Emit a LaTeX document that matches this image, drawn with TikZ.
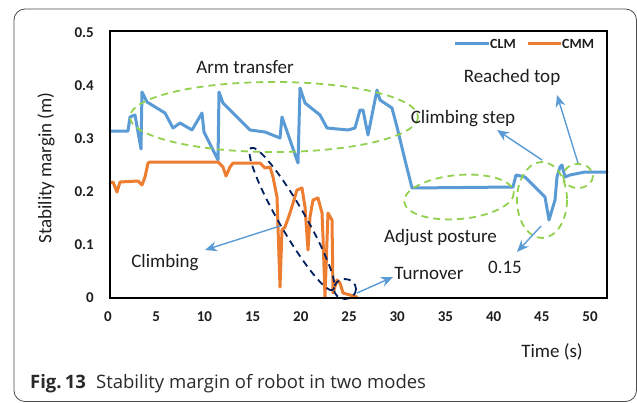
\documentclass[tikz,border=0pt]{standalone}
\usepackage{fontspec}
\setmainfont{Carlito}
\newfontfamily\capfont{Open Sans}
\usetikzlibrary{arrows.meta}
\definecolor{clm}{HTML}{5B9BD5}
\definecolor{cmm}{HTML}{ED7D31}
\definecolor{grn}{HTML}{92D050}
\definecolor{navyd}{HTML}{002060}
\definecolor{txt}{HTML}{1E1E1E}
\definecolor{captxt}{HTML}{2A2A2A}
\begin{document}
\begin{tikzpicture}[x=1pt,y=-1pt,
  lbl/.style={font=\fontsize{19}{22}\selectfont, text=txt, inner sep=0pt, anchor=base},
  ticklbl/.style={font=\fontsize{15}{18}\selectfont\bfseries, text=txt, inner sep=0pt},
  leglbl/.style={font=\fontsize{14}{16}\selectfont\bfseries, text=txt, inner sep=0pt, anchor=base west},
  curve/.style={line width=3pt, line join=round, line cap=round},
  gdash/.style={grn, line width=1.8pt, dash pattern=on 7pt off 5pt},
  ndash/.style={navyd, line width=1.8pt, dash pattern=on 7pt off 5pt},
  callout/.style={clm, line width=1.4pt, -{Stealth[length=12pt,width=10pt]}}]
\useasboundingbox (0,0) rectangle (637,402);
% outer frame
\draw[rounded corners=11pt, black!70, line width=0.8pt] (14,9) rectangle (636.5,401.5);

% CLM curve
\draw[curve, clm] (110,131) -- (128,131) -- (130,117) -- (135,115) -- (141,149) -- (142,92) -- (147,102) -- (165,113) -- (173,128) -- (180,123) -- (192,130) -- (202,113) -- (204,132) -- (218,160) -- (219,92) -- (223,103) -- (238,118) -- (250,130) -- (265,132) -- (280,138) -- (282,117) -- (298,163) -- (300,88) -- (305,103) -- (320,115) -- (327,128) -- (348,130) -- (355,128) -- (360,110) -- (363,110) -- (368,135) -- (377,90) -- (380,100) -- (392,108) -- (397,127) -- (405,160) -- (412,188) -- (513,187) -- (516,175) -- (525,177) -- (545,197) -- (549,220) -- (555,200) -- (557,177) -- (560,167) -- (562,165) -- (565,177) -- (570,175) -- (580,173) -- (585,172) -- (607,172);

% CMM curve
\draw[curve, cmm] (110,183) -- (113,182) -- (117,192) -- (120,182) -- (138,181) -- (142,185) -- (145,177) -- (148,163) -- (150,162) -- (218,162) -- (223,167) -- (226,176) -- (230,167) -- (233,163) -- (260,163) -- (265,168) -- (270,167) -- (273,177) -- (277,197) -- (278,227) -- (280,287) -- (282,230) -- (285,227) -- (290,213) -- (297,190) -- (302,188) -- (305,207) -- (308,250) -- (310,217) -- (313,200) -- (318,198) -- (322,213) -- (323,237) -- (325,297) -- (328,213) -- (332,220) -- (333,293) -- (337,280) -- (340,283) -- (343,293) -- (350,295) -- (357,297);

% green dashed ellipses
\draw[gdash] (274,117) ellipse [x radius=144, y radius=35];
\draw[gdash, rotate around={5:(459,197)}] (459,197) ellipse [x radius=55, y radius=22];
\draw[gdash] (542,200) ellipse [x radius=25, y radius=38];
\draw[gdash] (578,176) ellipse [x radius=15, y radius=12];

% navy dashed ellipses
\draw[ndash, rotate around={-60:(292,219)}] (292,219) ellipse [x radius=82, y radius=13];
\draw[ndash] (345,289) ellipse [x radius=11, y radius=10];

% axis box
\draw[black, line width=2pt] (110,31) rectangle (607,298);

% tick labels
\foreach \v/\yy in {0/298, 0.1/245, 0.2/192, 0.3/139, 0.4/86, 0.5/33}
  \node[ticklbl, anchor=east] (y\yy) at (94,\yy) {\v};
\foreach \t in {0,5,...,50}
  \node[ticklbl, anchor=base] (x\t) at ({108+9.64*\t},321) {\t};

% legend
\coordinate (lb1) at (455,43); \coordinate (lb2) at (489,43);
\draw[clm, line width=3pt] (lb1) -- (lb2);
\node[leglbl] (lclm) at (490,48) {CLM};
\coordinate (lo1) at (528,43); \coordinate (lo2) at (561,43);
\draw[cmm, line width=3pt] (lo1) -- (lo2);
\node[leglbl] (lcmm) at (562,48) {CMM};

% axis titles
\node[lbl, rotate=90, anchor=center] (ylab) at (46,168) {Stability margin (m)};
\node[lbl] (xlab) at (552,357) {Time (s)};

% annotation labels
\node[lbl] (arm) at (245,73) {Arm transfer};
\node[lbl] (reach) at (512,82) {Reached top};
\node[lbl] (cstep) at (463,123) {Climbing step};
\node[lbl] (adj) at (440.5,242) {Adjust posture};
\node[lbl] (climb) at (165,267) {Climbing};
\node[lbl] (turn) at (429,279) {Turnover};
\node[lbl] (v015) at (505,273) {0.15};

% callout arrows
\coordinate (c1s) at (280,226); \coordinate (c1e) at (205,250);
\draw[callout] (c1s) -- (c1e);
\coordinate (c2s) at (357,293); \coordinate (c2e) at (393,277);
\draw[callout] (c2s) -- (c2e);
\coordinate (c3s) at (542,160); \coordinate (c3e) at (497,130);
\draw[callout] (c3s) -- (c3e);
\coordinate (c4s) at (578,163); \coordinate (c4e) at (557,95);
\draw[callout] (c4s) -- (c4e);
\coordinate (c5s) at (541,226); \coordinate (c5e) at (517,252);
\draw[callout] (c5s) -- (c5e);

% caption
\node[inner sep=0pt, anchor=base west, text=captxt, font=\capfont\fontsize{18.5}{22}\selectfont] (cap) at (30,388) {\textbf{Fig.\,13}\hspace{0.55em}Stability margin of robot in two modes};
\end{tikzpicture}
\end{document}
